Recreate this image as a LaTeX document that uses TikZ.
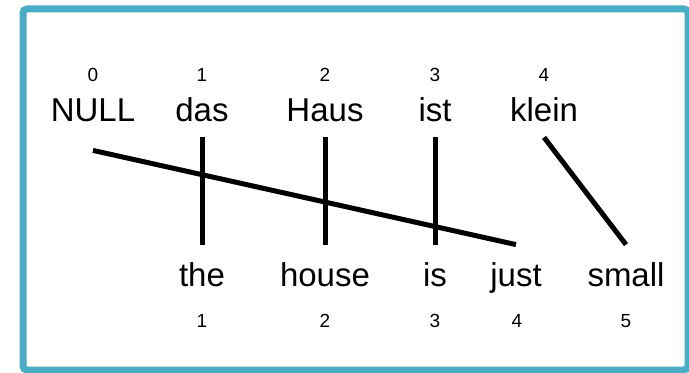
\documentclass[tikz,border=0pt]{standalone}
\usepackage{fontspec}
\setmainfont{Liberation Sans}
\usepackage{xcolor}
\definecolor{framecol}{HTML}{4BACC6}
\usetikzlibrary{arrows.meta}

\begin{document}
\begin{tikzpicture}[x=0.5pt,y=-0.5pt,
word/.style={anchor=base,inner xsep=0pt,inner ysep=3pt,text height=17.5pt,text depth=4.5pt,font=\fontsize{16.5}{19}\selectfont},
idx/.style={anchor=base,inner sep=1pt,font=\fontsize{9.5}{11}\selectfont},
link/.style={line width=2.5pt}]
\useasboundingbox(0,0)rectangle(689,373);
\draw[framecol,line width=3.5pt,rounded corners=2pt,fill=white](23,9)rectangle(688,370);
% German words with positions
\node[idx](i0) at (93,82){0};
\node[idx](i1) at (202,82){1};
\node[idx](i2) at (325,82){2};
\node[idx](i3) at (435,82){3};
\node[idx](i4) at (544,82){4};
\node[word](t0) at (93,122){NULL};
\node[word](t1) at (202,122){das};
\node[word](t2) at (325,122){Haus};
\node[word](t3) at (435,122){ist};
\node[word](t4) at (544,122){klein};
% English words with positions
\node[word](b1) at (202,286){the};
\node[word](b2) at (325,286){house};
\node[word](b3) at (435,286){is};
\node[word](b4) at (516,286){just};
\node[word](b5) at (626,286){small};
\node[idx](j1) at (202,327){1};
\node[idx](j2) at (325,327){2};
\node[idx](j3) at (435,327){3};
\node[idx](j4) at (517,327){4};
\node[idx](j5) at (626,327){5};
% alignment
\draw[link]([yshift=-6.5pt]t0.south)--(b4.north);
\draw[link](t1)--(b1);
\draw[link](t2)--(b2);
\draw[link](t3)--(b3);
\draw[link](t4.south)--(b5.north);
\end{tikzpicture}
\end{document}
